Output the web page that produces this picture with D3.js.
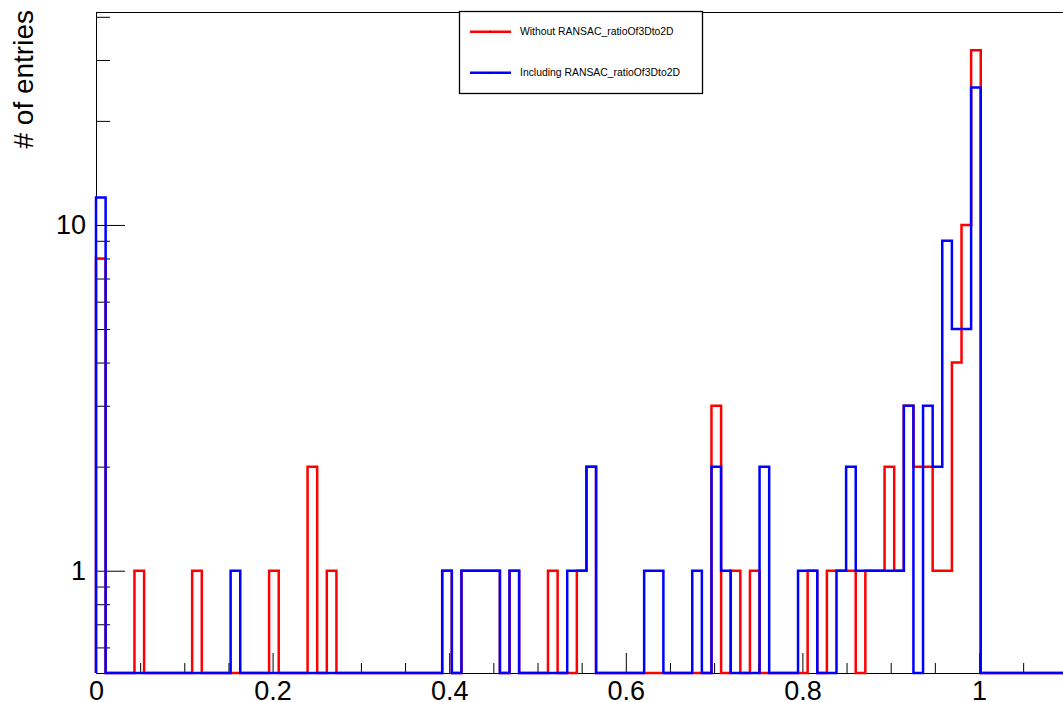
<!DOCTYPE html>
<html>
<head>
<meta charset="utf-8">
<script src="https://cdn.jsdelivr.net/npm/d3@7"></script>
<style>
    body { margin: 0; background: #ffffff; }
    text { font-family: "Liberation Sans", Arial, Helvetica, sans-serif; }
</style>
</head>
<body>
<div id="h_DIV"></div>
<script>
// ROOT style histogram of ratioOf3Dto2D, with and without RANSAC, log y axis

var width = 1063,
    height = 702;

// 101 bins between 0 and 1.1
var binLow = 0,
    binHigh = 1.1,
    nBins = 101;

// bin contents (bin 0 first)
var withoutRansac = [
    8, 0, 0, 0, 1, 0, 0, 0, 0, 0,
    1, 0, 0, 0, 0, 0, 0, 0, 1, 0,
    0, 0, 2, 0, 1, 0, 0, 0, 0, 0,
    0, 0, 0, 0, 0, 0, 1, 0, 1, 1,
    1, 1, 0, 1, 0, 0, 0, 1, 0, 0,
    1, 2, 0, 0, 0, 0, 0, 0, 0, 0,
    0, 0, 0, 0, 3, 0, 1, 0, 1, 0,
    0, 0, 0, 0, 1, 0, 1, 1, 1, 0,
    1, 1, 2, 1, 3, 2, 2, 1, 1, 4,
    10, 32, 0, 0, 0, 0, 0, 0, 0, 0,
    0
];
var includingRansac = [
    12, 0, 0, 0, 0, 0, 0, 0, 0, 0,
    0, 0, 0, 0, 1, 0, 0, 0, 0, 0,
    0, 0, 0, 0, 0, 0, 0, 0, 0, 0,
    0, 0, 0, 0, 0, 0, 1, 0, 1, 1,
    1, 1, 0, 1, 0, 0, 0, 0, 0, 1,
    1, 2, 0, 0, 0, 0, 0, 1, 1, 0,
    0, 0, 1, 0, 2, 1, 0, 0, 0, 2,
    0, 0, 0, 1, 1, 0, 0, 1, 2, 1,
    1, 1, 1, 1, 3, 0, 3, 2, 9, 5,
    5, 25, 0, 0, 0, 0, 0, 0, 0, 0,
    0
];

var seriesNames = ["Without RANSAC_ratioOf3Dto2D", "Including RANSAC_ratioOf3Dto2D"];
var seriesColors = ["#ff0000", "#0000ff"];

// axis ticks
var xMajorTicks = [0, 0.2, 0.4, 0.6, 0.8, 1],
    xTickLabels = ["0", "0.2", "0.4", "0.6", "0.8", "1"],
    xMinorTicks = [0.05, 0.1, 0.15, 0.25, 0.3, 0.35, 0.45, 0.5, 0.55, 0.65, 0.7, 0.75, 0.85, 0.9, 0.95, 1.05];
var yMajorTicks = [1, 10],
    yTickLabels = ["1", "10"],
    yMinorTicks = [0.6, 0.7, 0.8, 0.9, 2, 3, 4, 5, 6, 7, 8, 9, 20, 30, 40];
var yRange = [0.506, 41.3];

var yTitle = "# of entries";

// frame in pixels (right edge falls just outside the window)
var frameLeft = 96,
    frameTop = 12,
    frameBottom = 673,
    frameRight = 1067.3;

var x = d3.scaleLinear().domain([binLow, binHigh]).range([frameLeft, frameRight]),
    y = d3.scaleLog().domain(yRange).range([frameBottom, frameTop]);

var svg = d3.select("#h_DIV").
    append("svg").
    attr("width", width).
    attr("height", height);

svg.append("defs").
    append("clipPath").
    attr("id", "frameClip").
    append("rect").
    attr("x", frameLeft - 2).
    attr("y", frameTop).
    attr("width", frameRight - frameLeft + 2).
    attr("height", frameBottom - frameTop + 2);

// x axis: long ticks on the labelled values, short ones in between, all pointing up
var xAxis = svg.append("g").
    attr("transform", "translate(0," + frameBottom + ")").
    call(d3.axisBottom(x).
        tickValues(xMajorTicks).
        tickFormat(function(d, i) { return xTickLabels[i]; }).
        tickSizeInner(-20).
        tickSizeOuter(0).
        tickPadding(8));
xAxis.selectAll("text").
    attr("font-size", 27).
    attr("font-family", "Liberation Sans, Arial, sans-serif").
    attr("fill", "#000");
svg.append("g").
    attr("transform", "translate(0," + frameBottom + ")").
    call(d3.axisBottom(x).
        tickValues(xMinorTicks).
        tickFormat("").
        tickSizeInner(-10).
        tickSizeOuter(0)).
    select(".domain").remove();

// y axis, log scale
var yAxis = svg.append("g").
    attr("transform", "translate(" + frameLeft + ",0)").
    call(d3.axisLeft(y).
        tickValues(yMajorTicks).
        tickFormat(function(d, i) { return yTickLabels[i]; }).
        tickSizeInner(-29).
        tickSizeOuter(0).
        tickPadding(10));
yAxis.selectAll("text").
    attr("font-size", 27).
    attr("font-family", "Liberation Sans, Arial, sans-serif").
    attr("fill", "#000");
svg.append("g").
    attr("transform", "translate(" + frameLeft + ",0)").
    call(d3.axisLeft(y).
        tickValues(yMinorTicks).
        tickFormat("").
        tickSizeInner(-14).
        tickSizeOuter(0)).
    select(".domain").remove();

// top edge of the frame
svg.append("line").
    attr("x1", frameLeft).
    attr("x2", width).
    attr("y1", frameTop + 0.5).
    attr("y2", frameTop + 0.5).
    attr("stroke", "#000").
    attr("stroke-width", 1);

svg.append("text").
    attr("transform", "translate(33,10) rotate(-90)").
    attr("text-anchor", "end").
    attr("font-size", 28).
    attr("fill", "#000").
    text(yTitle);

// outline of one histogram; empty bins sit on the bottom of the frame
function binEdge(i) {
    return binLow + i * (binHigh - binLow) / nBins;
}
function stepPoints(counts) {
    var floor = y.range()[0];
    var pts = [[x(binEdge(0)), floor]];
    counts.forEach(function(c, i) {
        var yy = c > 0 ? y(c) : floor;
        pts.push([x(binEdge(i)), yy]);
        pts.push([x(binEdge(i + 1)), yy]);
    });
    pts.push([x(binEdge(counts.length)), floor]);
    return pts;
}

var line = d3.line();
var hists = [withoutRansac, includingRansac];

svg.append("g").
    attr("clip-path", "url(#frameClip)").
    selectAll(".hist").
    data(hists).
    enter().
    append("path").
    attr("class", "hist").
    attr("d", function(d) { return line(stepPoints(d)); }).
    attr("fill", "none").
    attr("stroke", function(d, i) { return seriesColors[i]; }).
    attr("stroke-width", 2.5).
    attr("stroke-linejoin", "miter");

// legend box
var legend = svg.append("g");
legend.append("rect").
    attr("x", 459.5).
    attr("y", 11.5).
    attr("width", 243).
    attr("height", 82).
    attr("fill", "#fff").
    attr("stroke", "#000").
    attr("stroke-width", 1.3);

var entry = legend.selectAll(".entry").
    data(seriesNames).
    enter().
    append("g").
    attr("class", "entry").
    attr("transform", function(d, i) { return "translate(470," + (31.7 + i * 41) + ")"; });
entry.append("line").
    attr("x1", 0).
    attr("x2", 41).
    attr("stroke", function(d, i) { return seriesColors[i]; }).
    attr("stroke-width", 2.5);
entry.append("rect").
    attr("x", 19.5).
    attr("y", -0.5).
    attr("width", 1).
    attr("height", 1).
    attr("fill", "#000");
entry.append("text").
    attr("x", 50).
    attr("dy", "0.35em").
    attr("font-size", 10.4).
    attr("fill", "#000").
    text(function(d) { return d; });
</script>
</body>
</html>
